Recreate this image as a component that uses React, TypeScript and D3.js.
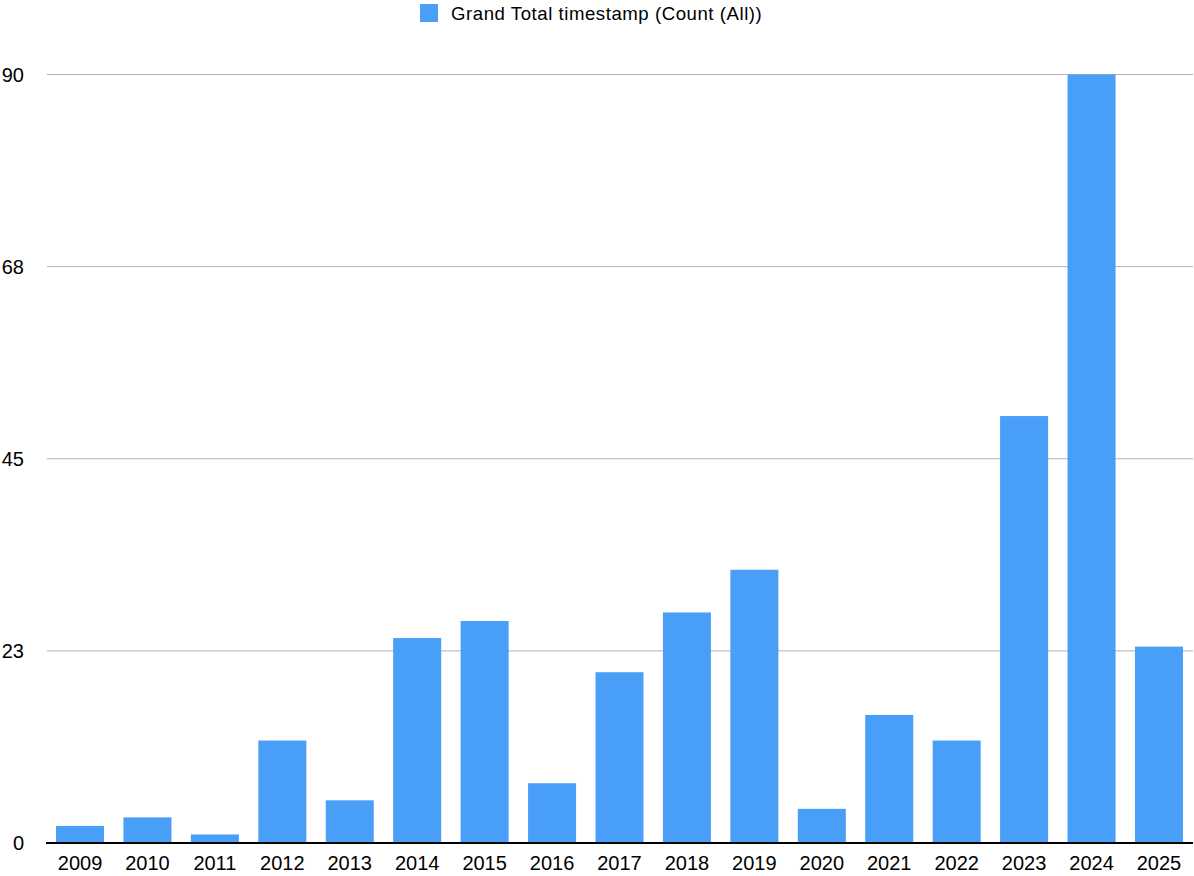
import React from "react";
import * as d3 from "d3";

const years = ["2009","2010","2011","2012","2013","2014","2015","2016","2017","2018","2019","2020","2021","2022","2023","2024","2025"];
const counts = [2,3,1,12,5,24,26,7,20,27,32,4,15,12,50,90,23];
const yTicks = [0,22.5,45,67.5,90];
const seriesName = "Grand Total timestamp (Count (All))";

const W = 1194, H = 876;
const left = 46.3, right = 1192.7, top = 74.5, bottom = 843;
const color = "#499ff7";
const font = "'Liberation Sans', Arial, Helvetica, sans-serif";

export default function App() {
  const x = d3.scaleBand<string>().domain(years).range([left, right]).paddingInner(0.288).paddingOuter(0.144);
  const y = d3.scaleLinear().domain([0, 90]).range([bottom, top]);
  return (
    <svg width={W} height={H} style={{ position: "absolute", left: 0, top: 0, background: "#fff" }} fontFamily={font}>
      <rect x={420} y={4} width={18} height={18} fill={color} />
      <text x={451} y={19.5} fontSize={18.6} letterSpacing={0.55} fill="#000">{seriesName}</text>
      {yTicks.map((t) => (
        <g key={t}>
          {t !== 0 && <line x1={47} x2={1193} y1={y(t)} y2={y(t)} stroke="#b3b3b3" strokeWidth={1} />}
          <text x={24} y={y(t)} fontSize={20} textAnchor="end" dominantBaseline="central" fill="#000">{Math.round(t)}</text>
        </g>
      ))}
      {years.map((yr, i) => (
        <rect key={yr} x={x(yr)} y={y(counts[i])} width={x.bandwidth()} height={y(0) - y(counts[i])} fill={color} />
      ))}
      <line x1={46} x2={1193} y1={bottom} y2={bottom} stroke="#000" strokeWidth={2} />
      {years.map((yr) => (
        <text key={yr} x={(x(yr) as number) + x.bandwidth() / 2} y={870} fontSize={20} textAnchor="middle" fill="#000">{yr}</text>
      ))}
    </svg>
  );
}
